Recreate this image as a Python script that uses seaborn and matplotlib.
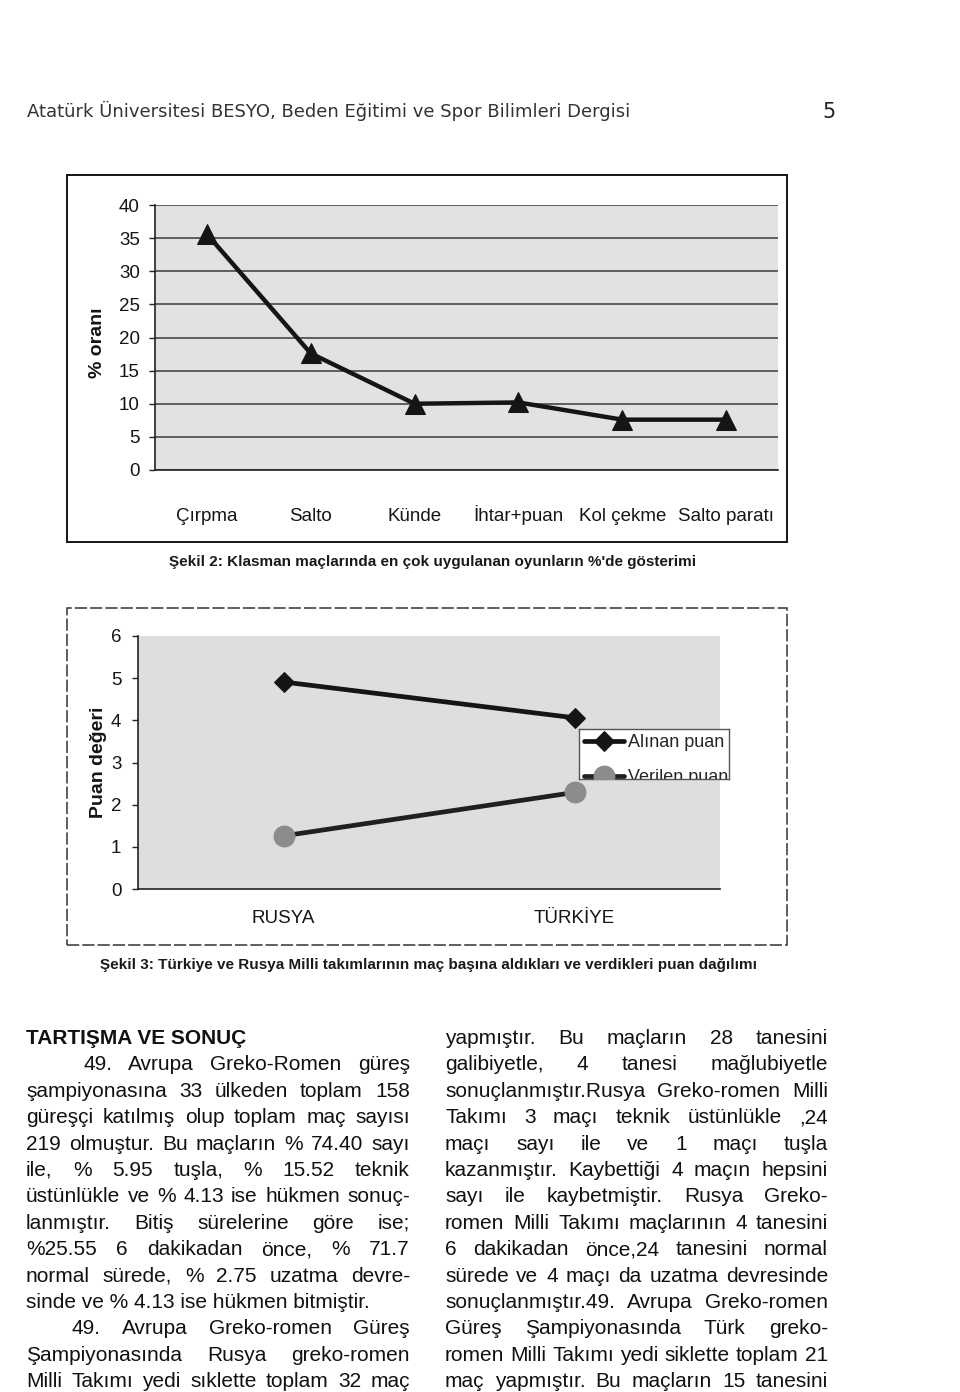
import numpy as np
import matplotlib
matplotlib.use("Agg")
import matplotlib.pyplot as plt
import seaborn as sns
from matplotlib.patches import Rectangle
from matplotlib.lines import Line2D
from matplotlib.text import Text

# ---------------- data ----------------
header_text = "Atatürk Üniversitesi BESYO, Beden Eğitimi ve Spor Bilimleri Dergisi"
page_number = "5"

moves = ["Çırpma", "Salto", "Künde", "İhtar+puan", "Kol çekme", "Salto paratı"]
move_pct = [35.6, 17.6, 10.0, 10.2, 7.6, 7.6]
y1_ticks = [0, 5, 10, 15, 20, 25, 30, 35, 40]
y1_label = "% oranı"
caption2 = "Şekil 2: Klasman maçlarında en çok uygulanan oyunların %'de gösterimi"

teams = ["RUSYA", "TÜRKİYE"]
alinan_puan = [4.91, 4.06]
verilen_puan = [1.26, 2.29]
series_names = ["Alınan puan", "Verilen puan"]
y2_ticks = [0, 1, 2, 3, 4, 5, 6]
y2_label = "Puan değeri"
caption3 = "Şekil 3: Türkiye ve Rusya Milli takımlarının maç başına aldıkları ve verdikleri puan dağılımı"

heading = "TARTIŞMA VE SONUÇ"
left_lines = [
    "49. Avrupa Greko-Romen güreş",
    "şampiyonasına 33 ülkeden toplam 158",
    "güreşçi katılmış olup toplam maç sayısı",
    "219 olmuştur. Bu maçların % 74.40 sayı",
    "ile, % 5.95 tuşla, % 15.52 teknik",
    "üstünlükle ve % 4.13 ise hükmen sonuç-",
    "lanmıştır. Bitiş sürelerine göre ise;",
    "%25.55 6 dakikadan önce, % 71.7",
    "normal sürede, % 2.75 uzatma devre-",
    "sinde ve % 4.13 ise hükmen bitmiştir.",
    "49. Avrupa Greko-romen Güreş",
    "Şampiyonasında Rusya greko-romen",
    "Milli Takımı yedi sıklette toplam 32 maç",
]
right_lines = [
    "yapmıştır. Bu maçların 28 tanesini",
    "galibiyetle, 4 tanesi mağlubiyetle",
    "sonuçlanmıştır.Rusya Greko-romen Milli",
    "Takımı 3 maçı teknik üstünlükle ,24",
    "maçı sayı ile ve 1 maçı tuşla",
    "kazanmıştır. Kaybettiği 4 maçın hepsini",
    "sayı ile kaybetmiştir. Rusya Greko-",
    "romen Milli Takımı maçlarının 4 tanesini",
    "6 dakikadan önce,24 tanesini normal",
    "sürede ve 4 maçı da uzatma devresinde",
    "sonuçlanmıştır.49. Avrupa Greko-romen",
    "Güreş Şampiyonasında Türk greko-",
    "romen Milli Takımı yedi siklette toplam 21",
    "maç yapmıştır. Bu maçların 15 tanesini",
]

# ---------------- setup ----------------
sns.set_style("white")
plt.rcParams["font.family"] = ["Liberation Sans", "DejaVu Sans"]
W, H = 960, 1392
fig = plt.figure(figsize=(W / 100, H / 100), dpi=100)
fig.patch.set_facecolor("white")


def fx(px):
    return px / W


def fy(py):
    return 1 - py / H


def axes_rect(l, t, r, b):
    return [fx(l), fy(b), (r - l) / W, (b - t) / H]


INK = "#151515"

# header
fig.text(fx(27), fy(111), header_text, family="DejaVu Sans", fontsize=13,
         color="#333333", va="center", ha="left")
fig.text(fx(829), fy(112), page_number, family="DejaVu Sans", fontsize=15,
         color="#222222", va="center", ha="center")

# ---------------- chart 1 ----------------
fig.add_artist(Rectangle((fx(67), fy(542)), (787 - 67) / W, (542 - 175) / H,
                         transform=fig.transFigure, fill=False, ec=INK, lw=1.4))
ax1 = fig.add_axes(axes_rect(155, 205, 778, 470))
ax1.set_facecolor("#e2e2e2")
sns.lineplot(x=moves, y=move_pct, ax=ax1, sort=False, color=INK, lw=3.2,
             marker="^", markersize=15, markeredgecolor=INK, legend=False, zorder=3)
ax1.set_xlim(-0.5, len(moves) - 0.5)
ax1.set_ylim(0, 40)
ax1.set_yticks(y1_ticks)
ax1.yaxis.grid(True, color="#3a3a3a", lw=1.1)
ax1.xaxis.grid(False)
ax1.set_axisbelow(True)
for s in ["top", "right"]:
    ax1.spines[s].set_visible(False)
for s in ["left", "bottom"]:
    ax1.spines[s].set_color("#222222")
    ax1.spines[s].set_linewidth(1.2)
ax1.set_xlabel("")
ax1.set_ylabel(y1_label, fontweight="bold", fontsize=14, color=INK)
ax1.yaxis.set_label_coords(-0.078, 0.48)
ax1.set_xticks(np.arange(-0.5, len(moves), 1), minor=True)
ax1.tick_params(axis="x", which="major", length=0, pad=37, labelsize=13.5, labelcolor=INK)
ax1.tick_params(axis="x", which="minor", length=5, width=1, color="#222222", direction="out")
ax1.tick_params(axis="y", length=4, width=1, color="#222222", pad=7, labelsize=13.5,
                labelcolor=INK, left=True)
plt.setp(ax1.get_xticklabels(), va="baseline")

fig.text(fx(433), fy(562), caption2, fontsize=11, fontweight="bold",
         color="#1a1a1a", ha="center", va="center")

# ---------------- chart 2 ----------------
fig.add_artist(Rectangle((fx(67), fy(945)), (787 - 67) / W, (945 - 608) / H,
                         transform=fig.transFigure, fill=False, ec="#333333", lw=1.1,
                         ls=(0, (8, 2))))
ax2 = fig.add_axes(axes_rect(138, 636, 720, 889))
ax2.set_facecolor("#dedede")
sns.lineplot(x=teams, y=alinan_puan, ax=ax2, sort=False, color=INK, lw=3.4,
             marker="D", markersize=10, markeredgecolor=INK, label=series_names[0],
             legend=False, zorder=3)
sns.lineplot(x=teams, y=verilen_puan, ax=ax2, sort=False, color="#202020", lw=3.4,
             marker="o", markersize=15, markerfacecolor="#8c8c8c",
             markeredgecolor="#8c8c8c", label=series_names[1], legend=False, zorder=3)
ax2.set_xlim(-0.5, len(teams) - 0.5)
ax2.set_ylim(0, 6)
ax2.set_yticks(y2_ticks)
ax2.grid(False)
for s in ["top", "right"]:
    ax2.spines[s].set_visible(False)
for s in ["left", "bottom"]:
    ax2.spines[s].set_color("#222222")
    ax2.spines[s].set_linewidth(1.2)
ax2.set_xlabel("")
ax2.set_ylabel(y2_label, fontweight="bold", fontsize=14, color=INK)
ax2.yaxis.set_label_coords(-0.053, 0.5)
ax2.set_xticks(np.arange(-0.5, len(teams), 1), minor=True)
ax2.tick_params(axis="x", which="major", length=0, pad=24.5, labelsize=13.5, labelcolor=INK)
ax2.tick_params(axis="x", which="minor", length=5, width=1, color="#222222", direction="out")
ax2.tick_params(axis="y", length=4, width=1, color="#222222", pad=8, labelsize=13.5,
                labelcolor=INK, left=True)
plt.setp(ax2.get_xticklabels(), va="baseline")

# truncated legend box (as in the original Excel export)
lax = fig.add_axes(axes_rect(579, 729, 729, 779))
lax.set_facecolor("white")
lax.set_xticks([])
lax.set_yticks([])
for s in lax.spines.values():
    s.set_color("#555555")
    s.set_linewidth(1.0)
handles, labels = ax2.get_legend_handles_labels()
leg = lax.legend(handles, labels, loc="upper left", bbox_to_anchor=(0, 1),
                 frameon=False, fontsize=13, handlelength=2.2, handletextpad=0.2,
                 labelspacing=0.98, borderaxespad=0.0, borderpad=0.3)
for a in leg.findobj():
    if isinstance(a, (Text, Line2D)):
        a.set_clip_on(True)
        a.set_clip_box(lax.bbox)

fig.text(fx(428), fy(965), caption3, fontsize=11, fontweight="bold",
         color="#1a1a1a", ha="center", va="center")

# ---------------- body text ----------------
BODY = dict(fontsize=15, color="#111111", family="Liberation Sans")
renderer = fig.canvas.get_renderer()


def write_line(line, x0, x1, y_base, justify, indent=0, **kw):
    if not justify:
        fig.text(fx(x0 + indent), fy(y_base), line, ha="left", va="baseline", **kw)
        return
    words = line.split()
    texts = [fig.text(0, fy(y_base), w, ha="left", va="baseline", **kw) for w in words]
    widths = [t.get_window_extent(renderer).width for t in texts]
    gap = (x1 - x0 - indent - sum(widths)) / max(len(words) - 1, 1)
    x = x0 + indent
    for t, w in zip(texts, widths):
        t.set_x(fx(x))
        x += w + gap


LX0, LX1 = 26, 410
RX0, RX1 = 445, 828
Y0, DY = 1044, 26.4

fig.text(fx(LX0), fy(Y0), heading, ha="left", va="baseline", fontweight="bold",
         fontsize=15, color="#111111", family="Liberation Sans")
left_justify = [True] * len(left_lines)
left_justify[9] = False
left_indent = [0] * len(left_lines)
left_indent[0] = 57
left_indent[10] = 46
for i, line in enumerate(left_lines):
    write_line(line, LX0, LX1, Y0 + (i + 1) * DY, left_justify[i], left_indent[i], **BODY)
for i, line in enumerate(right_lines):
    write_line(line, RX0, RX1, Y0 + i * DY, True, 0, **BODY)

fig.savefig("out.png", dpi=100, facecolor="white")
